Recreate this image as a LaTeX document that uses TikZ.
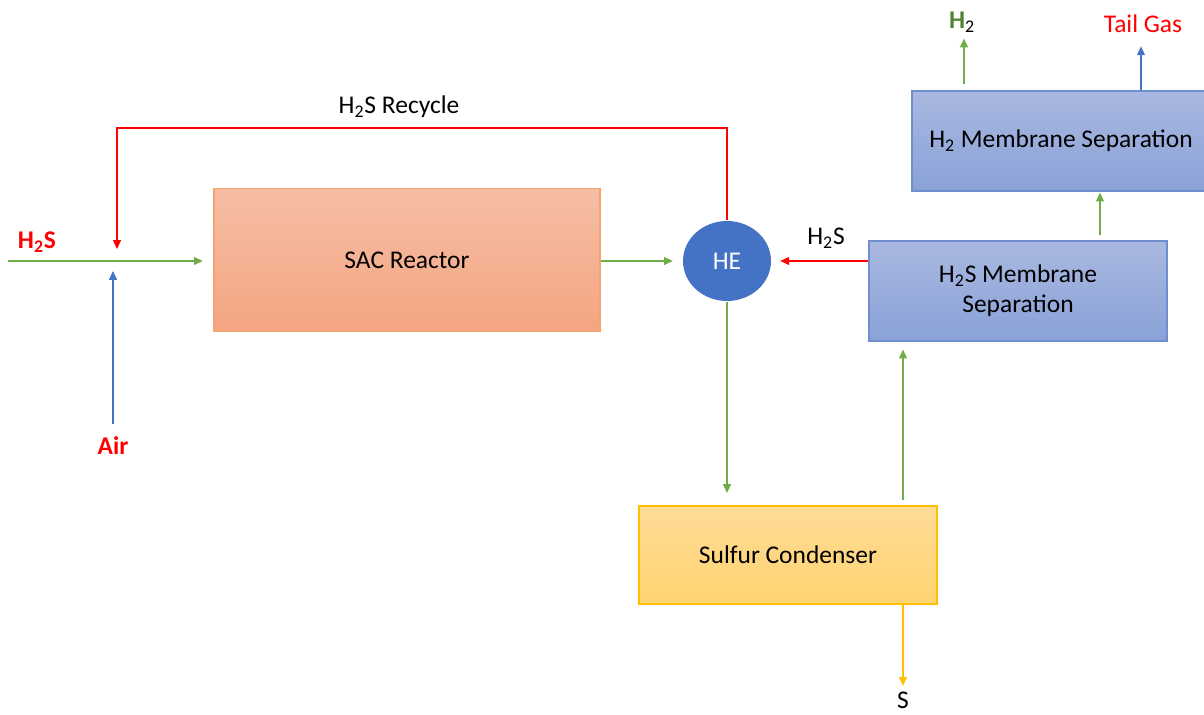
\documentclass[tikz,border=0pt]{standalone}
\usepackage{fontspec}
\setmainfont{Carlito}
\usetikzlibrary{arrows.meta, positioning, shapes.geometric, calc}
\definecolor{cgreen}{HTML}{70AD47}
\definecolor{cdkgreen}{HTML}{548235}
\definecolor{cblue}{HTML}{4472C4}
\definecolor{cred}{HTML}{FF0000}
\definecolor{cyellow}{HTML}{FFC000}
\definecolor{corange}{HTML}{F4A46E}
\definecolor{corangetop}{HTML}{F6BEA4}
\definecolor{corangebot}{HTML}{F4A582}
\definecolor{cmem}{HTML}{6E8ED0}
\definecolor{cmemtop}{HTML}{A9B8E0}
\definecolor{cmembot}{HTML}{8AA2D8}
\definecolor{cyeltop}{HTML}{FFDB97}
\definecolor{cyelbot}{HTML}{FFD470}
\tikzset{
  every picture/.style={font=\fontsize{14.5}{17}\selectfont, line width=0.6pt},
  unit/.style={draw=#1, align=center, line width=0.8pt, minimum width=5.96cm, minimum height=2cm},
  flow/.style={-{Triangle[length=5pt,width=4.5pt]}, draw=#1, line width=0.6pt},
  flow/.default=cgreen,
  tag/.style={font=\fontsize{14.5}{17}\selectfont\bfseries, text=cred},
}

\begin{document}
\begin{tikzpicture}[x=0.02cm, y=-0.02cm]
  \useasboundingbox (0,0) rectangle (1204,715);
  \node[unit=corange, top color=corangetop, bottom color=corangebot, minimum width=7.72cm, minimum height=2.86cm] (sac) at (407,260) {SAC Reactor};
  \node[ellipse, fill=cblue, minimum width=1.76cm, minimum height=1.6cm, text=white] (he) at (727,261) {HE};
  \node[unit=cmem, top color=cmemtop, bottom color=cmembot] (hsmem) at (1018,291) {H\textsubscript{2}S Membrane\\Separation};
  \node[unit=cmem, top color=cmemtop, bottom color=cmembot] (hmem) at (1061,141) {H\textsubscript{2} Membrane Separation};
  \node[unit=cyellow, top color=cyeltop, bottom color=cyelbot, minimum height=1.96cm] (cond) at (788,555) {Sulfur Condenser};

  \node[tag] (hsin) at (37,242) {H\textsubscript{2}S};
  \node[tag] (air) at (113,446) {Air};
  \node (rec) at (399,107) {H\textsubscript{2}S Recycle};
  \node (hsback) at (826,238) {H\textsubscript{2}S};
  \node (h2) at (962,22) {\textcolor{cdkgreen}{\textbf{H}}\textsubscript{2}};
  \node[text=cred] (tail) at (1143,24) {Tail Gas};
  \node[inner sep=1pt] (s) at (903,700) {S};

  \coordinate (feed) at (8,261);
  \coordinate (airin) at (113,424);
  \coordinate (airtip) at (113,271);
  \coordinate (rtop) at (117,128);
  \coordinate (rtip) at (117,249);

  \draw[flow] (feed) -- ([xshift=-6pt]feed -| sac.west);
  \draw[flow=cblue] (airin) -- (airtip);
  \draw[flow=cred] (he.north) |- (rtop) -- (rtip);
  \draw[flow] (sac.east |- he) -- ([xshift=-5.5pt]he.west);
  \draw[flow=cred] (hsmem.west |- he) -- ([xshift=5pt]he.east);
  \draw[flow] (he.south) -- ([yshift=7pt]he.south |- cond.north);
  \draw[flow] ([yshift=3pt]cond.north -| s) -- ([yshift=-4.5pt]hsmem.south -| s);
  \draw[flow=cyellow] (cond.south -| s) -- ([yshift=2pt]s.north);
  \draw[flow] ([yshift=3pt]hsmem.north -| 1100,0) -- ([yshift=-0.5pt]hmem.south -| 1100,0);
  \draw[flow] ([yshift=3.5pt]hmem.north -| 964,0) -- (h2.south -| 964,0);
  \draw[flow=cblue] (hmem.north -| 1141,0) -- ([yshift=-4pt]tail.south -| 1141,0);
\end{tikzpicture}
\end{document}
